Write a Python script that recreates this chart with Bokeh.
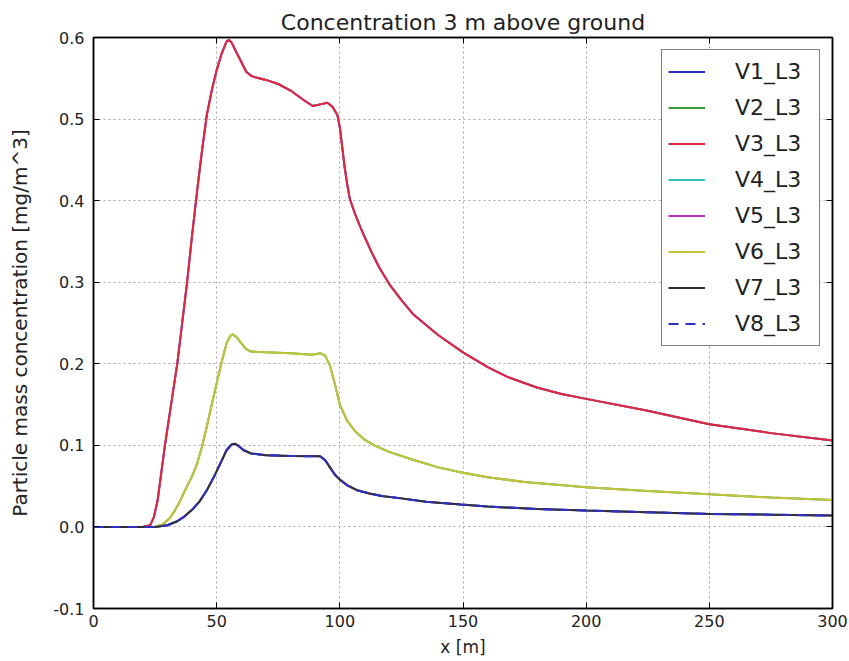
from bokeh.plotting import figure
from bokeh.models import (LinearAxis, Legend, LegendItem, Range1d,
                          PrintfTickFormatter, FixedTicker, CustomLabelingPolicy)
from bokeh.embed import file_html
from bokeh.resources import INLINE

# ---- data ----
x_low = [0, 10, 20, 25, 30, 34, 37, 40, 43, 46, 49, 52, 54, 56, 57.5, 59, 61, 64,
         70, 80, 92, 94, 96, 98, 100, 103, 107, 112, 117, 125, 135, 149, 160,
         180, 200, 225, 250, 275, 300]
conc_low = [0, 0, 0, 0, 0.002, 0.007, 0.013, 0.021, 0.031, 0.045, 0.062, 0.081,
            0.094, 0.101, 0.102, 0.099, 0.094, 0.090, 0.088, 0.087, 0.0865, 0.082,
            0.073, 0.064, 0.058, 0.051, 0.045, 0.041, 0.038, 0.035, 0.031, 0.0275,
            0.025, 0.022, 0.020, 0.018, 0.016, 0.015, 0.014]

x_mid = [0, 10, 20, 25, 28, 31, 33, 35, 38, 40, 42, 44, 46, 48, 50, 52, 54, 55.5,
         56.5, 58, 60, 62, 64, 70, 80, 89, 92, 94, 96, 98, 100, 103, 106, 110,
         114, 120, 130, 140, 149, 160, 175, 200, 225, 250, 275, 300]
conc_mid = [0, 0, 0, 0, 0.003, 0.011, 0.020, 0.031, 0.050, 0.062, 0.077, 0.098,
            0.123, 0.150, 0.176, 0.202, 0.225, 0.234, 0.236, 0.233, 0.225, 0.218,
            0.215, 0.214, 0.213, 0.211, 0.213, 0.210, 0.198, 0.175, 0.150, 0.130,
            0.118, 0.107, 0.100, 0.092, 0.082, 0.073, 0.067, 0.061, 0.055, 0.0487,
            0.044, 0.040, 0.036, 0.033]

x_high = [0, 10, 20, 23, 24.5, 26, 29, 32, 34, 36, 38, 40, 42, 44, 46, 48, 50, 52,
          54, 55, 56, 58, 60, 62, 64, 66, 70, 75, 80, 85, 89, 92, 95, 97, 99, 100,
          101, 102, 103, 104, 106, 108, 110, 113, 116, 120, 125, 130, 140, 150,
          160, 168, 180, 190, 200, 224, 250, 275, 300]
conc_high = [0, 0, 0, 0.002, 0.012, 0.032, 0.100, 0.160, 0.200, 0.250, 0.300,
             0.357, 0.410, 0.460, 0.505, 0.535, 0.560, 0.580, 0.595, 0.597, 0.594,
             0.582, 0.570, 0.558, 0.553, 0.551, 0.548, 0.543, 0.535, 0.524, 0.516,
             0.518, 0.520, 0.515, 0.505, 0.490, 0.465, 0.440, 0.420, 0.403, 0.385,
             0.370, 0.356, 0.336, 0.318, 0.298, 0.278, 0.260, 0.235, 0.214, 0.196,
             0.184, 0.171, 0.163, 0.157, 0.143, 0.126, 0.115, 0.106]

series_names = ["V1_L3", "V2_L3", "V3_L3", "V4_L3", "V5_L3", "V6_L3", "V7_L3", "V8_L3"]
series_x = [x_low, x_mid, x_high, x_high, x_high, x_mid, x_low, x_low]
series_y = [conc_low, conc_mid, conc_high, conc_high, conc_high, conc_mid, conc_low, conc_low]
series_colors = ["#3030c0", "#3a9a3a", "#dc2a3c", "#30c0c0", "#c030c0",
                 "#c4c43a", "#303030", "#3030c0"]
series_dash = ["solid", "solid", "solid", "solid", "solid", "solid", "solid", "10 7"]

x_ticks = [0, 50, 100, 150, 200, 250, 300]
y_ticks = [-0.1, 0.0, 0.1, 0.2, 0.3, 0.4, 0.5, 0.6]

FONT = "DejaVu Sans"

p = figure(width=849, height=661, x_range=Range1d(0, 300), y_range=Range1d(-0.1, 0.6),
           output_backend="svg", toolbar_location=None,
           min_border_left=93, min_border_right=17, min_border_top=37, min_border_bottom=53,
           title="Concentration 3 m above ground")
p.background_fill_color = "white"
p.border_fill_color = "white"
p.outline_line_color = "black"
p.outline_line_width = 1.5

p.title.align = "center"
p.title.text_font = FONT
p.title.text_font_size = "22px"
p.title.text_font_style = "normal"
p.title.text_color = "#222222"
p.title.standoff = 6

# draw order: hidden duplicates first so the reference's visible colours stay on top
draw_order = [3, 4, 0, 1, 2, 5, 6, 7]
renderers = {}
for i in draw_order:
    renderers[i] = p.line(series_x[i], series_y[i], line_color=series_colors[i],
                          line_width=2, line_dash=series_dash[i])

items = [LegendItem(label=series_names[i], renderers=[renderers[i]]) for i in range(8)]
legend = Legend(items=items, location="top_right", margin=12)
legend.label_text_font = FONT
legend.label_text_font_size = "22px"
legend.label_text_color = "#222222"
legend.glyph_width = 37
legend.glyph_height = 31
legend.label_height = 31
legend.label_width = 78
legend.spacing = 5
legend.padding = 6
legend.label_standoff = 30
legend.border_line_color = "black"
legend.border_line_width = 1.2
legend.background_fill_color = "white"
legend.background_fill_alpha = 1.0
p.add_layout(legend, "center")

# axes
for ax in [p.xaxis[0], p.yaxis[0]]:
    ax.major_tick_in = 6
    ax.major_tick_out = 0
    ax.minor_tick_line_color = None
    ax.axis_line_color = "black"
    ax.axis_line_width = 1.5
    ax.major_tick_line_color = "black"
    ax.major_label_text_font = FONT
    ax.major_label_text_font_size = "16px"
    ax.major_label_text_color = "#222222"
    ax.axis_label_text_font = FONT
    ax.axis_label_text_font_style = "normal"
    ax.axis_label_text_color = "#222222"

p.xaxis.ticker = FixedTicker(ticks=x_ticks)
p.yaxis.ticker = FixedTicker(ticks=y_ticks)
p.yaxis.formatter = PrintfTickFormatter(format="%.1f")
p.xaxis.axis_label = "x [m]"
p.yaxis.axis_label = "Particle mass concentration [mg/m^3]"
p.xaxis.axis_label_text_font_size = "17px"
p.yaxis.axis_label_text_font_size = "20px"
p.xaxis.major_label_standoff = 6
p.yaxis.major_label_standoff = 9
p.xaxis.axis_label_standoff = 7
p.yaxis.axis_label_standoff = 18

right_ax = LinearAxis(ticker=FixedTicker(ticks=y_ticks),
                      major_label_policy=CustomLabelingPolicy(code="return new Set()"))
top_ax = LinearAxis(ticker=FixedTicker(ticks=x_ticks),
                    major_label_policy=CustomLabelingPolicy(code="return new Set()"))
for ax in [right_ax, top_ax]:
    ax.major_tick_in = 6
    ax.major_tick_out = 0
    ax.minor_tick_line_color = None
    ax.axis_line_color = "black"
    ax.axis_line_width = 1.5
    ax.major_label_standoff = 0
    ax.major_label_text_font_size = "0px"
p.add_layout(right_ax, "right")
p.add_layout(top_ax, "above")

# grid
p.grid.grid_line_color = "#a8a8a8"
p.grid.grid_line_dash = "2 3"
p.grid.grid_line_width = 1
p.xgrid.ticker = FixedTicker(ticks=x_ticks)
p.ygrid.ticker = FixedTicker(ticks=y_ticks)

open("out.html", "w").write(file_html(p, INLINE))
